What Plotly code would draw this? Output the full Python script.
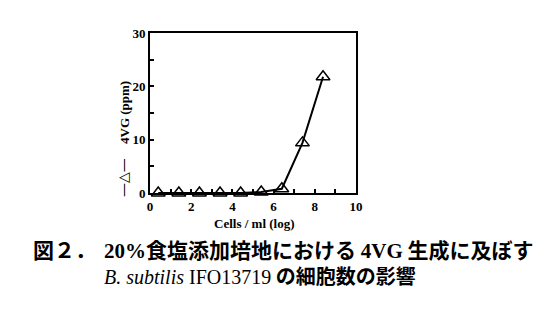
import plotly.graph_objects as go

cells_log = [0.4, 1.4, 2.4, 3.4, 4.4, 5.4, 6.4, 7.4, 8.4]
vg_ppm = [0.0, 0.0, 0.0, 0.0, 0.0, 0.2, 0.8, 9.4, 21.8]

x_ticks = [0, 2, 4, 6, 8, 10]
y_ticks = [0, 10, 20, 30]

W, H = 551, 312
L, R, T, B = 150, 356, 33, 193

def px(x):
    return (x - L) / (R - L)

def py(y):
    return (B - y) / (B - T)

fig = go.Figure()
fig.add_trace(go.Scatter(
    x=cells_log, y=vg_ppm, mode="lines+markers",
    line=dict(color="black", width=2),
    marker=dict(symbol="triangle-up-open", size=12, color="black",
                line=dict(width=1.5, color="black")),
    cliponaxis=False, showlegend=False,
))

tickfont = dict(family="Liberation Serif", size=13, color="black")
fig.update_xaxes(
    range=[0, 10], tickvals=x_ticks, ticktext=["<b>%d</b>" % v for v in x_ticks],
    ticks="inside", ticklen=4, tickwidth=1.5, tickcolor="black",
    minor=dict(dtick=1, ticks="inside", ticklen=4, tickwidth=1.5, tickcolor="black"),
    showline=True, linecolor="black", linewidth=2, mirror=True,
    showgrid=False, zeroline=False, tickfont=tickfont,
)
fig.update_yaxes(
    range=[0, 30], tickvals=y_ticks, ticktext=["<b>%d</b>" % v for v in y_ticks],
    ticks="inside", ticklen=4, tickwidth=1.5, tickcolor="black",
    minor=dict(dtick=5, ticks="inside", ticklen=4, tickwidth=1.5, tickcolor="black"),
    showline=True, linecolor="black", linewidth=2, mirror=True,
    showgrid=False, zeroline=False, tickfont=tickfont,
)

def note(text, x, y, size, family="Liberation Serif", xanchor="center", angle=0):
    return dict(text=text, x=px(x), y=py(y), xref="paper", yref="paper",
                xanchor=xanchor, yanchor="middle", textangle=angle, showarrow=False,
                font=dict(family=family, size=size, color="black"))

SERIF = "<span style='font-family:Liberation Serif'>%s</span>"

ann = [
    note("<b>Cells / ml (log)</b>", 254, 223, 13),
    note("<b>4VG (ppm)</b>", 124, 113, 13, angle=-90),
    note("—△—", 123, 178, 14, family="DejaVu Sans", angle=-90),
    note("<b>図２．</b>", 31, 249, 21, family="Noto Sans CJK JP", xanchor="left"),
    note("<b>" + SERIF % "20%" + "食塩添加培地における " + SERIF % "4VG" + " 生成に及ぼす</b>",
         102, 249, 21, family="Noto Sans CJK JP", xanchor="left"),
    note(SERIF % "<i>B. subtilis</i> IFO13719" + " <b>の細胞数の影響</b>", 102, 275, 20,
         family="Noto Sans CJK JP", xanchor="left"),
]

fig.update_layout(
    width=W, height=H,
    margin=dict(l=L, r=W - R, t=T, b=H - B),
    paper_bgcolor="white", plot_bgcolor="white",
    annotations=ann,
)

fig.write_html("out.html")
